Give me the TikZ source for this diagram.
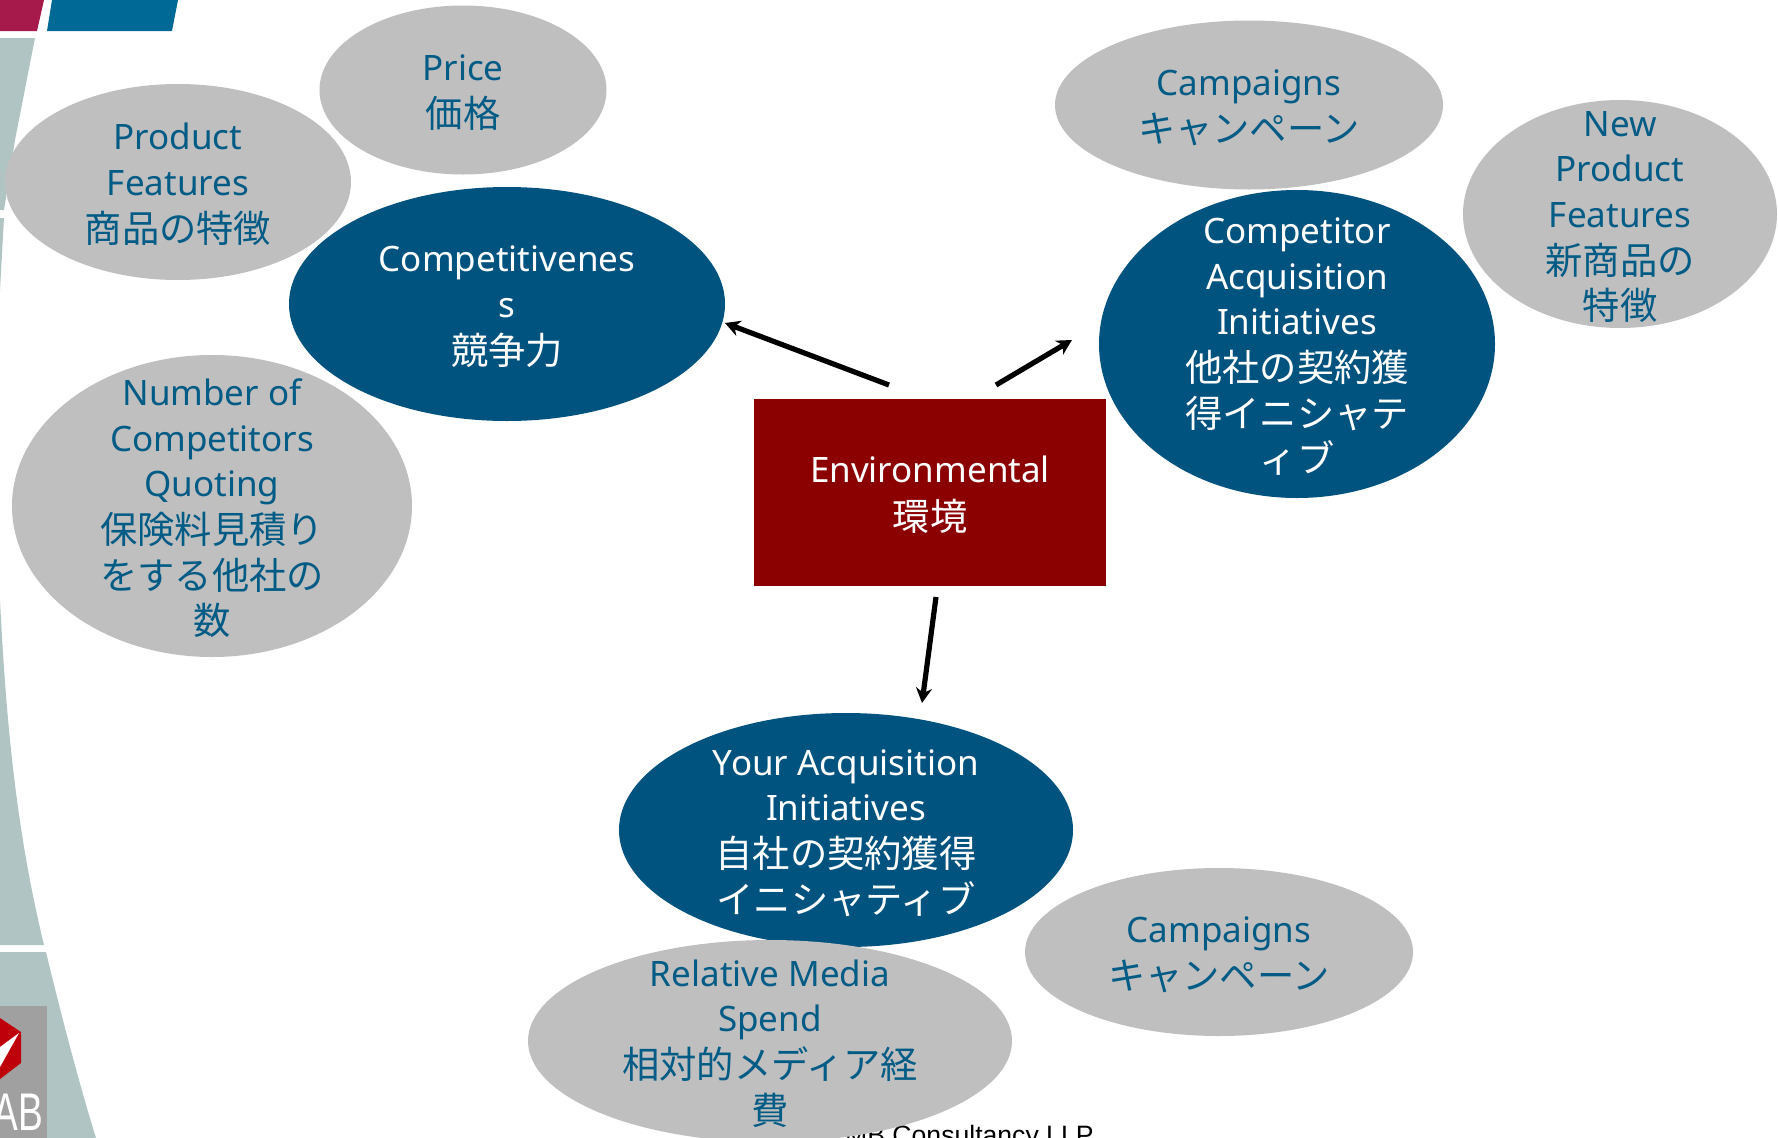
\documentclass[tikz,border=0pt]{standalone}
\usepackage{fontspec}
\usetikzlibrary{shapes.geometric,arrows.meta}
\setmainfont{Noto Sans}
\newfontfamily\footfont{Liberation Sans}
\newfontfamily\cjkfam{Noto Sans CJK JP}
\newcommand{\jp}[1]{{\cjkfam\fontsize{37.3}{45.4}\selectfont\raisebox{-2pt}{#1}}}
\newcommand{\stack}[1]{\makebox[0pt]{\raisebox{-20.5pt}{\smash{\begin{tabular}{@{}c@{}}#1\end{tabular}}}}}
\definecolor{navy}{HTML}{00527F}
\definecolor{soft}{HTML}{BFBFBF}
\definecolor{inktext}{HTML}{005B85}
\definecolor{envred}{HTML}{8B0000}
\definecolor{band}{HTML}{B0C4C4}
\tikzset{
  x=1pt,y=-1pt,
  bub/.style={ellipse,inner sep=0pt,outer sep=0pt,font=\fontsize{35}{45.4}\selectfont},
  greybub/.style={bub,fill=soft,text=inktext},
  bluebub/.style={bub,fill=navy,text=white},
  arr/.style={-{Stealth[length=15pt,width=16pt]},line width=5.2pt,black}
}
\begin{document}
\begin{tikzpicture}
\useasboundingbox (0,0) rectangle (1778,1138);
\clip (0,0) rectangle (1778,1138);
% backdrop
\fill[fill=white] (0,0) rectangle (1778,1138);
\fill[fill={rgb,255:red,165;green,25;blue,75}] (0,0) -- (44,0) -- (37,31) -- (0,31) -- cycle;
\fill[fill={rgb,255:red,0;green,105;blue,150}] (52,0) -- (178,0) -- (172,31) -- (47,31) -- cycle;
\fill[band] (0,38) -- (35,38) -- (15,140) -- (4,210) -- (0,210) -- cycle;
\fill[band] (0,218) -- (4,218) -- (0,290) -- cycle;
\fill[band] (0,600) .. controls (6,720) and (16,830) .. (44,945) -- (0,945) -- cycle;
\fill[band] (0,952) -- (46,952) .. controls (60,1010) and (78,1080) .. (96,1138) -- (0,1138) -- cycle;
\fill[fill={rgb,255:red,160;green,160;blue,160}] (0,1006) rectangle (47,1138);
\fill[fill={rgb,255:red,190;green,0;blue,10}] (0,1018) -- (21,1032) -- (21,1063) -- (0,1079) -- cycle;
\fill[white] (19,1033) -- (0,1047) -- (0,1067) -- cycle;
\node[anchor=base east,inner sep=0pt,text=white,font=\footfont\fontsize{53}{53}\selectfont] (logo) at (43,1130) {\scalebox{.7}[1]{AB}};
\node[anchor=base west,inner sep=0pt,text=black,font=\footfont\fontsize{26.6}{26.6}\selectfont] (foot) at (845,1144) {MB Consultancy LLP};
% bubbles
\node[greybub,minimum width=287pt,minimum height=169pt] (price) at (463,90) {\stack{Price\\\jp{価格}}};
\node[greybub,minimum width=346pt,minimum height=196pt] (features) at (178,182) {\stack{Product\\Features\\\jp{商品の特徴}}};
\node[bluebub,minimum width=436pt,minimum height=234pt] (comp) at (507,304) {\stack{Competitivenes\\s\\\jp{競争力}}};
\node[greybub,minimum width=400pt,minimum height=302pt] (number) at (212,506) {\stack{Number of\\Competitors\\Quoting\\\jp{保険料見積り}\\\jp{をする他社の}\\\jp{数}}};
\node[greybub,minimum width=388pt,minimum height=169pt] (camptop) at (1249,105) {\stack{Campaigns\\\jp{キャンペーン}}};
\node[greybub,minimum width=314pt,minimum height=228pt] (newprod) at (1620,214) {\stack{New\\Product\\Features\\\jp{新商品の}\\\jp{特徴}}};
\node[bluebub,minimum width=396pt,minimum height=308pt] (rival) at (1297,344) {\stack{Competitor\\Acquisition\\Initiatives\\\jp{他社の契約獲}\\\jp{得イニシャテ}\\\jp{ィブ}}};
\node[bluebub,minimum width=454pt,minimum height=234pt] (yours) at (846,830) {\stack{Your Acquisition\\Initiatives\\\jp{自社の契約獲得}\\\jp{イニシャティブ}}};
\node[greybub,minimum width=388pt,minimum height=168pt] (campbot) at (1219,952) {\stack{Campaigns\\\jp{キャンペーン}}};
\node[greybub,minimum width=484pt,minimum height=202pt] (media) at (770,1041) {\stack{Relative Media\\Spend\\\jp{相対的メディア経}\\\jp{費}}};
\node[rectangle,fill=envred,text=white,inner sep=0pt,minimum width=352pt,minimum height=187pt,font=\fontsize{35}{45.4}\selectfont] (env) at (930,492.5) {\stack{Environmental\\\jp{環境}}};
% connectors
\coordinate (a) at (889,385);
\coordinate (at) at (725,323);
\coordinate (b) at (996,385);
\coordinate (bt) at (1072,340);
\coordinate (c) at (936,597);
\coordinate (ct) at (922,703);
\draw[arr] (a) -- (at);
\draw[arr] (b) -- (bt);
\draw[arr] (c) -- (ct);
\end{tikzpicture}
\end{document}
